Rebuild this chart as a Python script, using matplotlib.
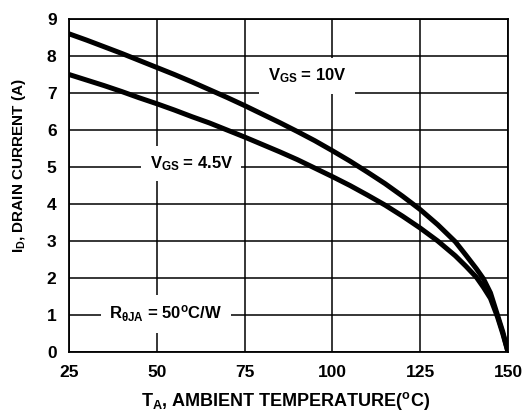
import matplotlib
matplotlib.use("Agg")
import matplotlib.pyplot as plt

# Data
temps_10v = [25, 30, 35, 40, 45, 50, 55, 60, 65, 70, 75, 80, 85, 90, 95, 100,
             105, 110, 115, 120, 125, 130, 135, 138, 141, 143, 145, 147, 148.5, 150]
id_10v = [8.6, 8.43, 8.25, 8.07, 7.88, 7.69, 7.5, 7.3, 7.09, 6.88, 6.66, 6.43, 6.2,
          5.96, 5.71, 5.44, 5.16, 4.86, 4.55, 4.21, 3.85, 3.44, 2.98, 2.62, 2.25,
          1.98, 1.6, 1.0, 0.55, 0.0]
temps_45v = [25, 30, 35, 40, 45, 50, 55, 60, 65, 70, 75, 80, 85, 90, 95, 100,
             105, 110, 115, 120, 125, 130, 135, 138, 141, 143, 145, 147, 148.5, 150]
id_45v = [7.5, 7.35, 7.2, 7.04, 6.87, 6.71, 6.54, 6.36, 6.19, 6.0, 5.81, 5.61, 5.41,
          5.2, 4.97, 4.74, 4.5, 4.24, 3.97, 3.67, 3.35, 3.0, 2.6, 2.32, 2.02, 1.75,
          1.45, 0.95, 0.5, 0.0]
x_ticks = [25, 50, 75, 100, 125, 150]
y_ticks = [0, 1, 2, 3, 4, 5, 6, 7, 8, 9]

plt.rcParams['font.family'] = ['Liberation Sans', 'DejaVu Sans']
plt.rcParams['font.weight'] = 'bold'
plt.rcParams['mathtext.fontset'] = 'custom'
plt.rcParams['mathtext.rm'] = 'Liberation Sans:bold'
plt.rcParams['mathtext.it'] = 'Liberation Sans:bold'
plt.rcParams['mathtext.bf'] = 'Liberation Sans:bold'
plt.rcParams['mathtext.sf'] = 'Liberation Sans:bold'

W, H = 524, 415
fig = plt.figure(figsize=(W / 100, H / 100), dpi=100)
left, right, top, bottom = 69, 508, 19, 352
ax = fig.add_axes([left / W, 1 - bottom / H, (right - left) / W, (bottom - top) / H])

ax.set_xlim(25, 150)
ax.set_ylim(0, 9)
ax.set_xticks(x_ticks)
ax.set_yticks(y_ticks)
ax.tick_params(length=0, labelsize=12.5, pad=9)
for lab in ax.get_xticklabels() + ax.get_yticklabels():
    lab.set_fontweight('bold')

ax.grid(True, color='black', lw=1.1, zorder=1)
ax.set_axisbelow(True)
for s in ax.spines.values():
    s.set_linewidth(1.3)
    s.set_color('black')

ax.plot(temps_10v, id_10v, color='black', lw=3.6, solid_capstyle='butt', zorder=3)
ax.plot(temps_45v, id_45v, color='black', lw=3.6, solid_capstyle='butt', zorder=3)

box = dict(boxstyle='square,pad=0.5', fc='white', ec='none')
ax.text(92.8, 7.46, r'$V_{GS}$ = 10V', fontsize=12, fontweight='bold',
        ha='center', va='center', bbox=box, zorder=4)
ax.text(59.8, 5.1, r'$V_{GS}$ = 4.5V', fontsize=12, fontweight='bold',
        ha='center', va='center', bbox=box, zorder=4)
ax.text(52.5, 1.03, r'R$_{\theta JA}$ = 50$^{o}$C/W', fontsize=12, fontweight='bold',
        ha='center', va='center', bbox=box, zorder=4)

fig.text(286 / W, 1 - 401 / H, r'T$_{A}$, AMBIENT TEMPERATURE($^{o}$C)',
         fontsize=13, fontweight='bold', ha='center', va='center')
fig.text(19 / W, 1 - 166 / H, r'I$_{D}$, DRAIN CURRENT (A)',
         fontsize=11, fontweight='bold', ha='center', va='center', rotation=90)

fig.savefig('out.png', dpi=100, facecolor='white')
